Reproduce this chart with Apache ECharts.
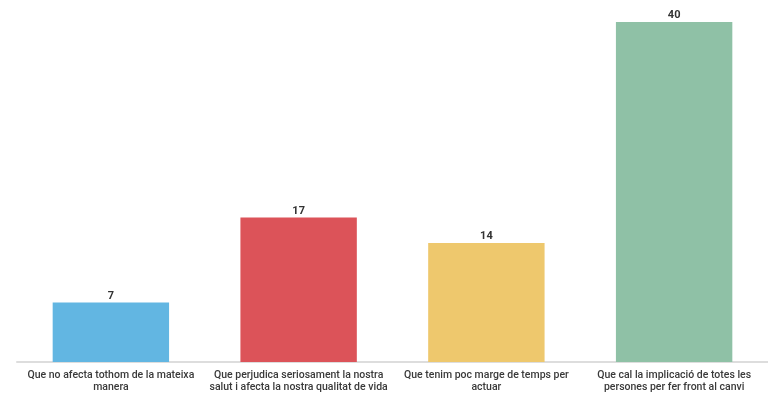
<!DOCTYPE html>
<html><head><meta charset="utf-8">
<script src="https://cdn.jsdelivr.net/npm/echarts@6/dist/echarts.min.js"></script>
<style>html,body{margin:0;padding:0;background:#fff}#c{width:768px;height:403px}</style>
</head><body><div id="c"></div>
<script>
const categories = [
  "Que no afecta tothom de la mateixa\nmanera",
  "Que perjudica seriosament la nostra\nsalut i afecta la nostra qualitat de vida",
  "Que tenim poc marge de temps per\nactuar",
  "Que cal la implicació de totes les\npersones per fer front al canvi"
];
const values = [7, 17, 14, 40];
const colors = ["#62b6e2", "#dc5359", "#eec86d", "#8fc1a6"];

const chart = echarts.init(document.getElementById('c'));
chart.setOption({
  animation: false,
  grid: { left: 17, right: 0, top: 22, bottom: 41, containLabel: false },
  xAxis: {
    type: 'category',
    data: categories,
    axisTick: { show: false },
    axisLine: { show: true, lineStyle: { color: '#dddddd', width: 2 } },
    axisLabel: {
      interval: 0, margin: 7, color: '#3a3a3a', fontFamily: 'Roboto', fontWeight: 500,
      fontSize: 10.5, lineHeight: 12
    }
  },
  yAxis: {
    type: 'value', min: 0, max: 40, show: false,
    splitLine: { show: false }
  },
  series: [{
    type: 'bar',
    barWidth: '62%',
    data: values.map((v, i) => ({ value: v, itemStyle: { color: colors[i] } })),
    label: {
      show: true, position: 'top', distance: 1,
      color: '#333', fontWeight: 'bold', fontSize: 11, fontFamily: 'Roboto'
    }
  }]
});
</script>
</body></html>
